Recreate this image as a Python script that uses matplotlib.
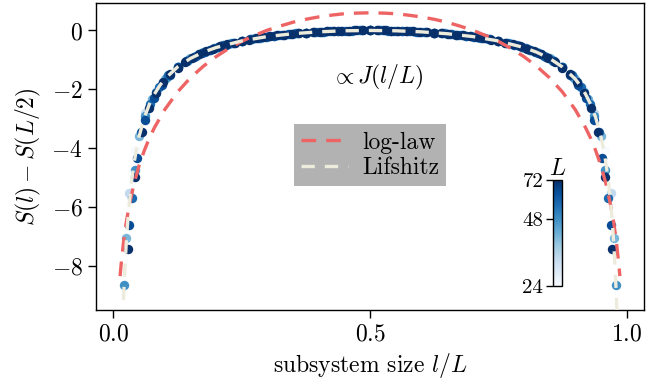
import numpy as np
import matplotlib
matplotlib.use("Agg")
import matplotlib.pyplot as plt
from matplotlib.colors import LogNorm
from matplotlib.cm import ScalarMappable

plt.rcParams.update({
    "font.family": "serif",
    "font.serif": ["cmr10"],
    "mathtext.fontset": "cm",
    "axes.formatter.use_mathtext": True,
    "axes.unicode_minus": True,
    "font.size": 17,
})

# system sizes and S(l) - S(L/2) for l = 1 .. L/2 (the other half is symmetric)
system_sizes = [24, 32, 40, 48, 56, 64, 72]
S24 = [-4.05, -2.00, -1.22, -0.80, -0.53, -0.35, -0.23, -0.14, -0.07, -0.03, -0.01, 0.00]
S32 = [-5.52, -2.80, -1.78, -1.23, -0.89, -0.65, -0.48, -0.35, -0.26, -0.18, -0.12, -0.07,
       -0.04, -0.02, 0.00, 0.00]
S40 = [-7.05, -3.60, -2.32, -1.65, -1.24, -0.95, -0.74, -0.58, -0.46, -0.36, -0.27, -0.21,
       -0.15, -0.11, -0.07, -0.05, -0.03, -0.01, 0.00, 0.00]
S48 = [-8.64, -4.75, -2.90, -2.08, -1.58, -1.24, -0.99, -0.80, -0.66, -0.54, -0.44, -0.36,
       -0.29, -0.23, -0.18, -0.14, -0.10, -0.07, -0.05, -0.03, -0.02, -0.01, 0.00, 0.00]
S56 = [-10.3, -5.69, -3.45, -2.50, -1.92, -1.53, -1.24, -1.03, -0.86, -0.72, -0.60, -0.51,
       -0.43, -0.36, -0.30, -0.25, -0.20, -0.16, -0.13, -0.10, -0.07, -0.05, -0.04, -0.02,
       -0.01, -0.01, 0.00, 0.00]
S64 = [-11.7, -6.61, -4.34, -3.05, -2.30, -1.84, -1.50, -1.25, -1.05, -0.89, -0.76, -0.66,
       -0.56, -0.48, -0.42, -0.36, -0.30, -0.26, -0.22, -0.18, -0.15, -0.12, -0.10, -0.07,
       -0.06, -0.04, -0.03, -0.02, -0.01, 0.00, 0.00, 0.00]
S72 = [-13.0, -7.42, -4.98, -3.45, -2.65, -2.13, -1.76, -1.48, -1.26, -1.08, -0.93, -0.81,
       -0.71, -0.62, -0.54, -0.47, -0.41, -0.36, -0.31, -0.27, -0.23, -0.19, -0.17, -0.14,
       -0.12, -0.09, -0.07, -0.06, -0.04, -0.03, -0.02, -0.01, -0.01, 0.00, 0.00, 0.00]
entropy_half = [S24, S32, S40, S48, S56, S64, S72]

# log-law fit, left half (mirrored about l/L = 1/2)
loglaw_x = [0.013, 0.015, 0.02, 0.025, 0.03, 0.04, 0.05, 0.06, 0.07, 0.08, 0.10, 0.125,
            0.15, 0.175, 0.2, 0.225, 0.25, 0.275, 0.3, 0.325, 0.35, 0.375, 0.4, 0.425,
            0.45, 0.475, 0.5]
loglaw_y = [-8.35, -7.95, -7.15, -6.53, -6.02, -5.22, -4.59, -4.09, -3.66, -3.30, -2.69,
            -2.09, -1.61, -1.22, -0.89, -0.61, -0.37, -0.17, 0.01, 0.15, 0.28, 0.38, 0.46,
            0.52, 0.57, 0.59, 0.60]

# Lifshitz fit, left half
lif_x = [0.018, 0.019, 0.02, 0.0225, 0.025, 0.0275, 0.03, 0.035, 0.04, 0.045, 0.05, 0.06,
         0.07, 0.08, 0.09, 0.10, 0.125, 0.15, 0.175, 0.2, 0.25, 0.3, 0.35, 0.4, 0.45, 0.5]
lif_y = [-9.96, -9.45, -8.99, -8.01, -7.23, -6.58, -6.04, -5.18, -4.53, -4.02, -3.60,
         -2.97, -2.51, -2.16, -1.88, -1.65, -1.24, -0.95, -0.74, -0.58, -0.355, -0.207,
         -0.110, -0.047, -0.011, 0.0]


def mirror(xs, ys):
    xs = list(xs) + [1.0 - v for v in xs[-2::-1]]
    ys = list(ys) + list(ys[-2::-1])
    return np.array(xs), np.array(ys)


fig = plt.figure(figsize=(6.67, 3.86), dpi=100)
ax = fig.add_axes([0.1439, 0.197, 0.8216, 0.7965])

cmap = plt.get_cmap("Blues")
norm = LogNorm(vmin=24, vmax=72)

for L, half in zip(system_sizes, entropy_half):
    l = np.arange(1, L)
    y = np.array(list(half) + list(half[-2::-1]))
    ax.scatter(l / L, y, s=46, color=cmap(norm(L)), linewidths=0, zorder=2)

xr, yr = mirror(loglaw_x, loglaw_y)
ax.plot(xr, yr, color="#ee6464", lw=2.4, dashes=(4.4, 3.0), zorder=3, label="log-law")
xl, yl = mirror(lif_x, lif_y)
ax.plot(xl, yl, color="#ecebdc", lw=2.4, dashes=(4.0, 3.0), zorder=4, label="Lifshitz")

ax.set_xlim(-0.034, 1.034)
ax.set_ylim(-9.5, 0.95)
ax.set_xticks([0.0, 0.5, 1.0])
ax.set_yticks([0, -2, -4, -6, -8])
ax.tick_params(direction="out", length=5.5, width=1.0, labelsize=17, pad=4)
for sp in ax.spines.values():
    sp.set_linewidth(1.0)

ax.set_xlabel("subsystem size $l/L$", fontsize=17, labelpad=4)
ax.set_ylabel("$S(l) - S(L/2)$", fontsize=17, labelpad=6)

ax.text(0.513, 0.756, r"$\propto J(l/L)$", transform=ax.transAxes, fontsize=17,
        ha="center", va="center")

leg = ax.legend(loc="center", bbox_to_anchor=(0.5, 0.503), fontsize=17, frameon=True,
                facecolor="#b2b2b2", edgecolor="none", framealpha=1.0, fancybox=False,
                handlelength=2.0, handletextpad=0.6, borderpad=0.3, labelspacing=0.15)

# colorbar for the system size
cax = ax.inset_axes([0.834, 0.078, 0.0164, 0.344])
sm = ScalarMappable(norm=norm, cmap=cmap)
cb = fig.colorbar(sm, cax=cax)
cb.set_ticks([24, 48, 72])
cb.set_ticklabels(["24", "48", "72"])
cb.ax.minorticks_off()
cb.ax.yaxis.set_ticks_position("left")
cb.ax.tick_params(labelsize=15, length=5, width=1.0, pad=2)
cb.outline.set_linewidth(1.0)
cb.ax.set_title("$L$", fontsize=17, pad=4)

fig.savefig("out.png", dpi=100)
